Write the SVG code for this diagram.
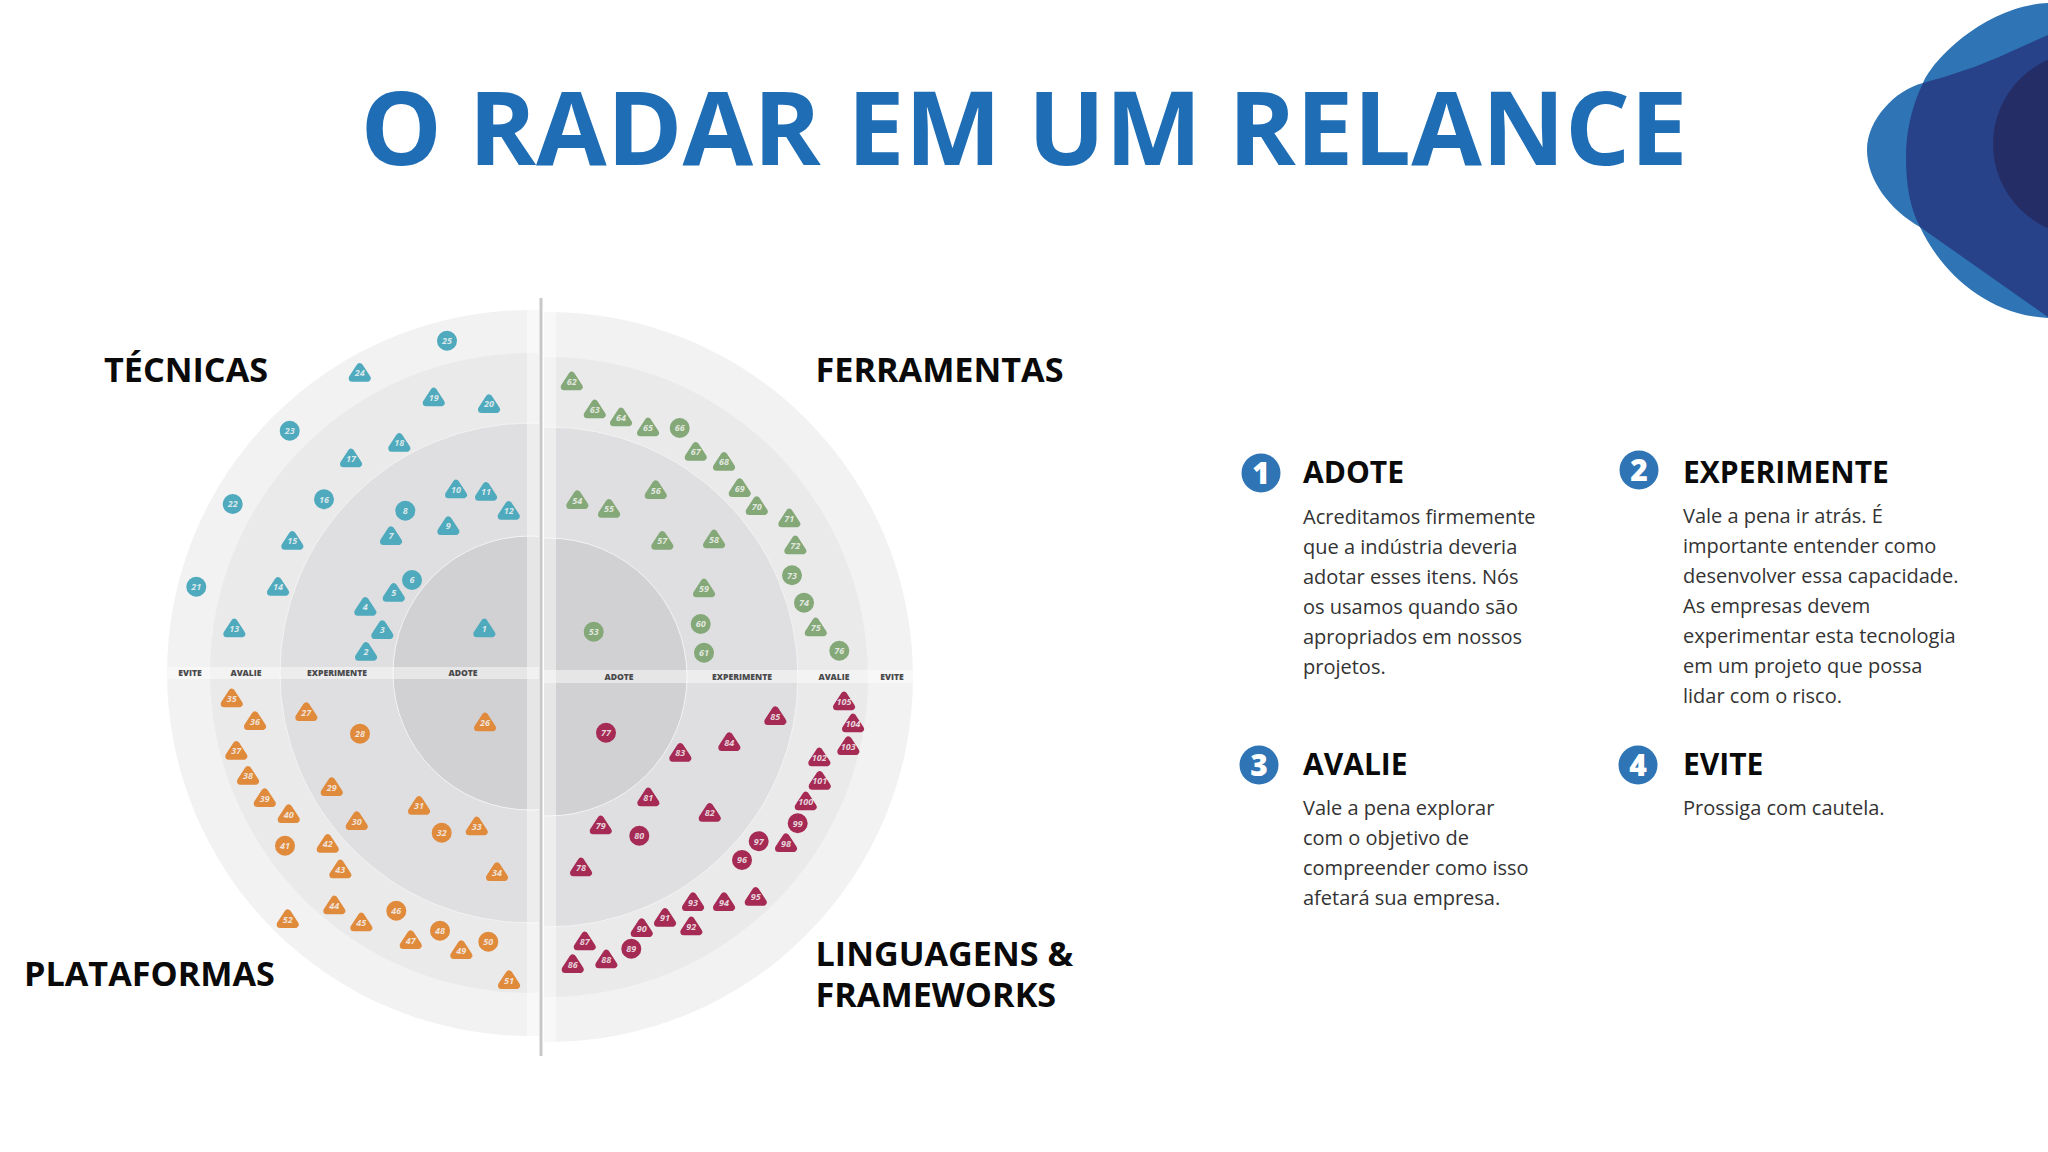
<svg xmlns="http://www.w3.org/2000/svg" width="2048" height="1152" viewBox="0 0 2048 1152">
<defs>
<style>
text{font-family:"Open Sans","Liberation Sans",sans-serif}
.title{font-size:102.4px;font-weight:700;fill:#1f6db5;text-anchor:middle}
.sec{font-size:34.2px;font-weight:700;fill:#0a0a0a}
.band{font-size:8.6px;font-weight:800;fill:#4a4a4c;text-anchor:middle}
.head{font-size:30px;font-weight:700;fill:#0a0a0a}
.body{font-size:20px;fill:#333}
.num{font-size:30px;font-weight:800;fill:#fff;text-anchor:middle}
.ev{fill:#f2f2f3}.av{fill:#eaeaeb}.ex{fill:#dfdfe1}.ad{fill:#d1d1d4}
.ring{stroke:#f3f3f4;stroke-width:1}
.lbl{font-size:9px;font-weight:700;font-style:italic;fill:#f4f4f4;fill-opacity:.85;text-anchor:middle}
.b{fill:#4faabd;stroke:#4faabd}.g{fill:#84a878;stroke:#84a878}.o{fill:#e08a3c;stroke:#e08a3c}.r{fill:#a52a54;stroke:#a52a54}
.m{stroke-width:7;stroke-linejoin:round}
</style>
<clipPath id="L"><rect x="0" y="0" width="539" height="1152"/></clipPath>
<clipPath id="R"><rect x="544" y="0" width="600" height="1152"/></clipPath>
<path id="t" d="M0,-6 L7.5,5.5 L-7.5,5.5 Z"/>
<circle id="c" r="6.5"/>
</defs>
<rect width="2048" height="1152" fill="#fff"/>
<g id="blob">
<path d="M2048,3 C1990,5 1935,55 1923,83 C1910,110 1906,135 1906,157 C1906,185 1910,208 1920,227 C1940,270 1985,315 2048,318 Z" fill="#2f75b5"/>
<path d="M2048,35 C2020,47 1990,62 1965,70 C1945,77 1930,81 1923,83 C1895,90 1867,120 1867,150 C1867,180 1890,210 1920,227 L2048,317 Z" fill="#2f75b5"/>
<path d="M2048,35 C2020,47 1990,62 1965,70 C1945,77 1930,81 1923,83 C1910,110 1906,135 1906,157 C1906,185 1910,208 1920,227 L2048,317 Z" fill="#274289"/>
<circle cx="2085" cy="144" r="92" fill="#252d66"/>
</g>
<text class="title" x="1024" y="165">O RADAR EM UM RELANCE</text>
<g id="radar-left" clip-path="url(#L)">
<circle class="ev" cx="530" cy="673" r="363"/>
<circle class="av" cx="530" cy="673" r="320"/>
<circle class="ex ring" cx="530" cy="673" r="250"/>
<circle class="ad ring" cx="530" cy="673" r="137"/>
<rect x="527" y="300" width="12" height="750" fill="#fff" opacity=".45"/>
<rect x="160" y="667" width="379" height="12" fill="#fff" opacity=".45"/>
</g>
<g id="radar-right" clip-path="url(#R)">
<circle class="ev" cx="548" cy="677" r="365"/>
<circle class="av" cx="548" cy="677" r="320"/>
<circle class="ex ring" cx="548" cy="677" r="250"/>
<circle class="ad ring" cx="548" cy="677" r="139"/>
<rect x="544" y="300" width="12" height="750" fill="#fff" opacity=".45"/>
<rect x="544" y="670" width="375" height="13" fill="#fff" opacity=".45"/>
</g>
<rect id="axis" x="539.5" y="298" width="3" height="758" fill="#c8c8ca"/>
<g id="band-labels">
<text class="band" x="190" y="676">EVITE</text><text class="band" x="246" y="676">AVALIE</text><text class="band" x="337" y="676">EXPERIMENTE</text><text class="band" x="463" y="676">ADOTE</text>
<text class="band" x="619" y="680">ADOTE</text><text class="band" x="742" y="680">EXPERIMENTE</text><text class="band" x="834" y="680">AVALIE</text><text class="band" x="892" y="680">EVITE</text>
</g>
<g id="tecnicas" class="m b">
<use href="#t" x="484.3" y="628.3"/><use href="#t" x="366" y="651.7"/><use href="#t" x="382.3" y="630"/><use href="#t" x="365.3" y="606.7"/><use href="#t" x="393.7" y="592.7"/><use href="#c" x="412" y="580"/><use href="#t" x="391" y="536"/><use href="#c" x="405.3" y="510.7"/><use href="#t" x="448.3" y="526"/><use href="#t" x="456" y="489.3"/><use href="#t" x="486" y="491.7"/><use href="#t" x="508.7" y="510.7"/><use href="#t" x="234.3" y="628.3"/><use href="#t" x="278" y="586.7"/><use href="#t" x="292.3" y="540.7"/><use href="#c" x="324" y="499.3"/><use href="#t" x="351" y="458.3"/><use href="#t" x="399.3" y="442.7"/><use href="#t" x="433.7" y="397.3"/><use href="#t" x="489" y="404"/><use href="#c" x="196.3" y="586.7"/><use href="#c" x="232.7" y="504"/><use href="#c" x="289.7" y="430.7"/><use href="#t" x="359.7" y="372.7"/><use href="#c" x="447" y="340.7"/>
</g>
<g id="tecnicas-labels">
<text class="lbl" x="484.3" y="632">1</text><text class="lbl" x="366" y="655">2</text><text class="lbl" x="382.3" y="633">3</text><text class="lbl" x="365.3" y="610">4</text><text class="lbl" x="393.7" y="596">5</text><text class="lbl" x="412" y="583">6</text><text class="lbl" x="391" y="539">7</text><text class="lbl" x="405.3" y="514">8</text><text class="lbl" x="448.3" y="529">9</text><text class="lbl" x="456" y="493">10</text><text class="lbl" x="486" y="495">11</text><text class="lbl" x="508.7" y="514">12</text><text class="lbl" x="234.3" y="632">13</text><text class="lbl" x="278" y="590">14</text><text class="lbl" x="292.3" y="544">15</text><text class="lbl" x="324" y="502.5">16</text><text class="lbl" x="351" y="462">17</text><text class="lbl" x="399.3" y="446">18</text><text class="lbl" x="433.7" y="401">19</text><text class="lbl" x="489" y="407">20</text><text class="lbl" x="196.3" y="590">21</text><text class="lbl" x="232.7" y="507">22</text><text class="lbl" x="289.7" y="434">23</text><text class="lbl" x="359.7" y="376">24</text><text class="lbl" x="447" y="344">25</text>
</g>
<g id="ferramentas" class="m g">
<use href="#c" x="593.7" y="631.7"/><use href="#t" x="577.3" y="500"/><use href="#t" x="609" y="508.7"/><use href="#t" x="655.7" y="490"/><use href="#t" x="662.3" y="540.7"/><use href="#t" x="714" y="539.3"/><use href="#t" x="704" y="588.3"/><use href="#c" x="700.7" y="624"/><use href="#c" x="704" y="652.7"/><use href="#t" x="571.7" y="381.3"/><use href="#t" x="594.7" y="409.3"/><use href="#t" x="621" y="417.3"/><use href="#t" x="648" y="427.3"/><use href="#c" x="679.7" y="428"/><use href="#t" x="695.7" y="451.7"/><use href="#t" x="724" y="461.7"/><use href="#t" x="739.7" y="488"/><use href="#t" x="756.7" y="506"/><use href="#t" x="789.3" y="518.3"/><use href="#t" x="795.3" y="545.3"/><use href="#c" x="792" y="575.3"/><use href="#c" x="804" y="602.7"/><use href="#t" x="815.7" y="627.3"/><use href="#c" x="839.3" y="650.7"/>
</g>
<g id="ferramentas-labels">
<text class="lbl" x="593.7" y="635">53</text><text class="lbl" x="577.3" y="503.5">54</text><text class="lbl" x="609" y="512">55</text><text class="lbl" x="655.7" y="493.5">56</text><text class="lbl" x="662.3" y="544">57</text><text class="lbl" x="714" y="543">58</text><text class="lbl" x="704" y="592">59</text><text class="lbl" x="700.7" y="627">60</text><text class="lbl" x="704" y="656">61</text><text class="lbl" x="571.7" y="385">62</text><text class="lbl" x="594.7" y="413">63</text><text class="lbl" x="621" y="421">64</text><text class="lbl" x="648" y="431">65</text><text class="lbl" x="679.7" y="431">66</text><text class="lbl" x="695.7" y="455">67</text><text class="lbl" x="724" y="465">68</text><text class="lbl" x="739.7" y="491.5">69</text><text class="lbl" x="756.7" y="509.5">70</text><text class="lbl" x="789.3" y="522">71</text><text class="lbl" x="795.3" y="549">72</text><text class="lbl" x="792" y="578.5">73</text><text class="lbl" x="804" y="606">74</text><text class="lbl" x="815.7" y="631">75</text><text class="lbl" x="839.3" y="654">76</text>
</g>
<g id="plataformas" class="m o">
<use href="#t" x="485" y="722.3"/><use href="#t" x="306.3" y="712"/><use href="#c" x="360" y="733.7"/><use href="#t" x="331.7" y="787"/><use href="#t" x="356.7" y="821"/><use href="#t" x="419" y="805.7"/><use href="#c" x="441.7" y="832.7"/><use href="#t" x="476.7" y="826.3"/><use href="#t" x="497" y="872"/><use href="#t" x="231.7" y="698.3"/><use href="#t" x="255" y="721"/><use href="#t" x="236.3" y="750.7"/><use href="#t" x="248" y="775.7"/><use href="#t" x="264.7" y="798"/><use href="#t" x="288.7" y="814"/><use href="#c" x="285" y="845.7"/><use href="#t" x="327.7" y="843.7"/><use href="#t" x="340.3" y="869.3"/><use href="#t" x="334.3" y="905.3"/><use href="#t" x="361.3" y="922.3"/><use href="#c" x="396.3" y="910.7"/><use href="#t" x="410.7" y="940"/><use href="#c" x="440" y="930.7"/><use href="#t" x="461.3" y="950"/><use href="#c" x="488.3" y="941.7"/><use href="#t" x="509" y="980"/><use href="#t" x="287.7" y="919"/>
</g>
<g id="plataformas-labels">
<text class="lbl" x="485" y="726">26</text><text class="lbl" x="306.3" y="715.5">27</text><text class="lbl" x="360" y="737">28</text><text class="lbl" x="331.7" y="790.5">29</text><text class="lbl" x="356.7" y="824.5">30</text><text class="lbl" x="419" y="809">31</text><text class="lbl" x="441.7" y="836">32</text><text class="lbl" x="476.7" y="830">33</text><text class="lbl" x="497" y="875.5">34</text><text class="lbl" x="231.7" y="702">35</text><text class="lbl" x="255" y="724.5">36</text><text class="lbl" x="236.3" y="754">37</text><text class="lbl" x="248" y="779">38</text><text class="lbl" x="264.7" y="801.5">39</text><text class="lbl" x="288.7" y="817.5">40</text><text class="lbl" x="285" y="849">41</text><text class="lbl" x="327.7" y="847">42</text><text class="lbl" x="340.3" y="873">43</text><text class="lbl" x="334.3" y="909">44</text><text class="lbl" x="361.3" y="926">45</text><text class="lbl" x="396.3" y="914">46</text><text class="lbl" x="410.7" y="943.5">47</text><text class="lbl" x="440" y="934">48</text><text class="lbl" x="461.3" y="953.5">49</text><text class="lbl" x="488.3" y="945">50</text><text class="lbl" x="509" y="983.5">51</text><text class="lbl" x="287.7" y="922.5">52</text>
</g>
<g id="linguagens" class="m r">
<use href="#c" x="606" y="732.7"/><use href="#t" x="581" y="867.3"/><use href="#t" x="600.7" y="825.3"/><use href="#c" x="639.3" y="835.7"/><use href="#t" x="648.3" y="797.3"/><use href="#t" x="709.7" y="812.7"/><use href="#t" x="680.3" y="752.7"/><use href="#t" x="729.3" y="742"/><use href="#t" x="775.3" y="716"/><use href="#t" x="572.7" y="964"/><use href="#t" x="584.7" y="941.3"/><use href="#t" x="606.3" y="959.3"/><use href="#c" x="631.3" y="948.7"/><use href="#t" x="641.7" y="928"/><use href="#t" x="665" y="917.7"/><use href="#t" x="691.3" y="926.3"/><use href="#t" x="693" y="902"/><use href="#t" x="724" y="902"/><use href="#t" x="755.7" y="896.7"/><use href="#c" x="742" y="860"/><use href="#c" x="758.7" y="841.3"/><use href="#t" x="786" y="843"/><use href="#c" x="797.7" y="823.3"/><use href="#t" x="805.7" y="801.3"/><use href="#t" x="819.7" y="780.7"/><use href="#t" x="819.3" y="757.3"/><use href="#t" x="848.3" y="746"/><use href="#t" x="853" y="723.3"/><use href="#t" x="844" y="701.3"/>
</g>
<g id="linguagens-labels">
<text class="lbl" x="606" y="736">77</text><text class="lbl" x="581" y="871">78</text><text class="lbl" x="600.7" y="829">79</text><text class="lbl" x="639.3" y="839">80</text><text class="lbl" x="648.3" y="801">81</text><text class="lbl" x="709.7" y="816">82</text><text class="lbl" x="680.3" y="756">83</text><text class="lbl" x="729.3" y="745.5">84</text><text class="lbl" x="775.3" y="719.5">85</text><text class="lbl" x="572.7" y="968">86</text><text class="lbl" x="584.7" y="945">87</text><text class="lbl" x="606.3" y="963">88</text><text class="lbl" x="631.3" y="952">89</text><text class="lbl" x="641.7" y="932">90</text><text class="lbl" x="665" y="921">91</text><text class="lbl" x="691.3" y="930">92</text><text class="lbl" x="693" y="906">93</text><text class="lbl" x="724" y="906">94</text><text class="lbl" x="755.7" y="900">95</text><text class="lbl" x="742" y="863">96</text><text class="lbl" x="758.7" y="844.5">97</text><text class="lbl" x="786" y="846.5">98</text><text class="lbl" x="797.7" y="826.5">99</text><text class="lbl" x="805.7" y="805">100</text><text class="lbl" x="819.7" y="784">101</text><text class="lbl" x="819.3" y="761">102</text><text class="lbl" x="848.3" y="749.5">103</text><text class="lbl" x="853" y="727">104</text><text class="lbl" x="844" y="705">105</text>
</g>
<g id="section-labels">
<text class="sec" x="104" y="381.5">TÉCNICAS</text>
<text class="sec" x="815.5" y="381.5">FERRAMENTAS</text>
<text class="sec" x="24" y="985.5">PLATAFORMAS</text>
<text class="sec" x="815.5" y="966">LINGUAGENS &amp;</text>
<text class="sec" x="815.5" y="1007">FRAMEWORKS</text>
</g>
<g id="legend-adote">
<circle cx="1261" cy="473" r="19.5" fill="#2f75b5"/><text class="num" x="1261" y="484">1</text>
<text class="head" x="1303" y="483">ADOTE</text>
<text class="body"><tspan x="1303" y="524">Acreditamos firmemente</tspan><tspan x="1303" y="554">que a indústria deveria</tspan><tspan x="1303" y="584">adotar esses itens. Nós</tspan><tspan x="1303" y="614">os usamos quando são</tspan><tspan x="1303" y="644">apropriados em nossos</tspan><tspan x="1303" y="674">projetos.</tspan></text>
</g>
<g id="legend-experimente">
<circle cx="1639" cy="470" r="19.5" fill="#2f75b5"/><text class="num" x="1639" y="481">2</text>
<text class="head" x="1683" y="482.5">EXPERIMENTE</text>
<text class="body"><tspan x="1683" y="522.7">Vale a pena ir atrás. É</tspan><tspan x="1683" y="552.7">importante entender como</tspan><tspan x="1683" y="582.7">desenvolver essa capacidade.</tspan><tspan x="1683" y="612.7">As empresas devem</tspan><tspan x="1683" y="642.7">experimentar esta tecnologia</tspan><tspan x="1683" y="672.7">em um projeto que possa</tspan><tspan x="1683" y="702.7">lidar com o risco.</tspan></text>
</g>
<g id="legend-avalie">
<circle cx="1259" cy="765" r="19.5" fill="#2f75b5"/><text class="num" x="1259" y="776">3</text>
<text class="head" x="1303" y="775">AVALIE</text>
<text class="body"><tspan x="1303" y="814.7">Vale a pena explorar</tspan><tspan x="1303" y="844.7">com o objetivo de</tspan><tspan x="1303" y="874.7">compreender como isso</tspan><tspan x="1303" y="904.7">afetará sua empresa.</tspan></text>
</g>
<g id="legend-evite">
<circle cx="1638" cy="765" r="19.5" fill="#2f75b5"/><text class="num" x="1638" y="776">4</text>
<text class="head" x="1683" y="775">EVITE</text>
<text class="body"><tspan x="1683" y="814.7">Prossiga com cautela.</tspan></text>
</g>
</svg>
